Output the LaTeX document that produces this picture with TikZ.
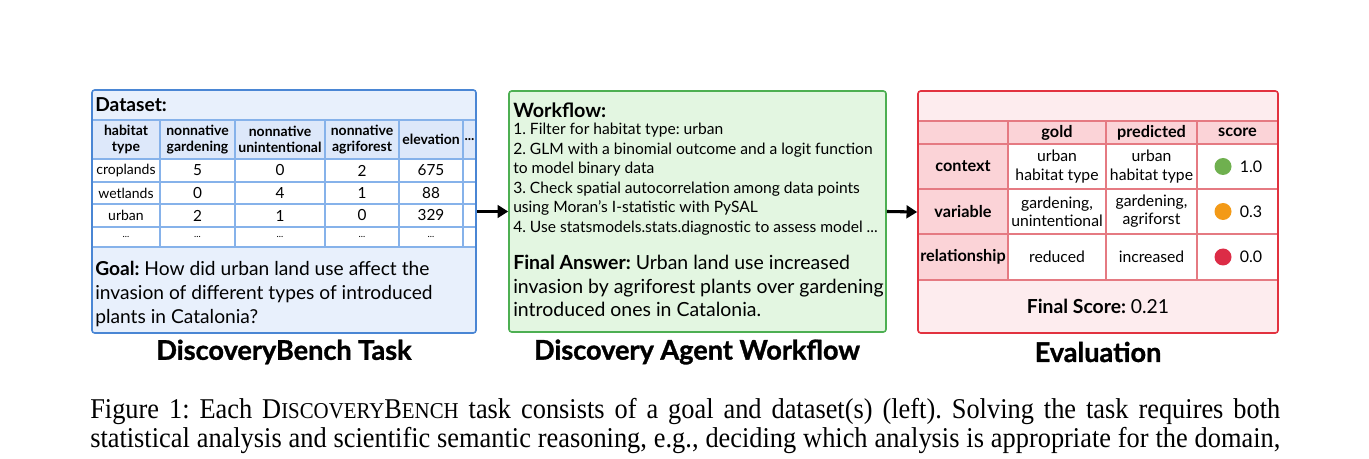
\documentclass[tikz,border=0pt]{standalone}
\usepackage{fontspec}
\setmainfont{Lato}
\newfontfamily\titlefont[BoldFeatures={FakeBold=1.2}]{Lato}
\newfontfamily\capfont[FakeStretch=0.92]{Liberation Serif}
\usetikzlibrary{arrows.meta}
\frenchspacing

\definecolor{taskblue}{HTML}{4A86D4}
\definecolor{taskfill}{HTML}{E8F0FC}
\definecolor{gridblue}{HTML}{86B2EA}
\definecolor{headblue}{HTML}{DDE8FA}
\definecolor{flowgreen}{HTML}{4DAF52}
\definecolor{flowfill}{HTML}{E3F6E1}
\definecolor{evalred}{HTML}{E2323F}
\definecolor{evalfill}{HTML}{FDECEE}
\definecolor{evalhead}{HTML}{FBD3D7}
\definecolor{gridred}{HTML}{E57A82}
\definecolor{dotgreen}{HTML}{6FB04F}
\definecolor{dotorange}{HTML}{F39A17}
\definecolor{dotred}{HTML}{DC2C46}

\newcommand\tabfont{\fontsize{10.5}{11.6}\selectfont}
\newcommand\evfont{\fontsize{11.8}{13.6}\selectfont}
\newcommand\bigtext{\fontsize{14.4}{18}\selectfont}

\begin{document}
\begin{tikzpicture}[x=0.75pt,y=-0.75pt,
  boxstyle/.style={rectangle,rounded corners=2pt,line width=1.2pt,inner sep=0pt},
  tcell/.style={align=center,inner sep=0pt,font=\tabfont},
  thead/.style={tcell,font=\tabfont\bfseries},
  ecell/.style={align=center,inner sep=0pt,font=\evfont},
  ehead/.style={ecell,font=\fontsize{12.2}{14}\selectfont\bfseries},
  dot/.style={circle,inner sep=0pt,minimum size=12.75pt},
  title/.style={font=\titlefont\fontsize{20.3}{22}\selectfont\bfseries,inner sep=0pt},
  flow/.style={-{Triangle[length=8pt,width=9.5pt]},line width=2.3pt}]
  \useasboundingbox (0,0) rectangle (1369,459);

  % boxes
  \node[boxstyle,draw=taskblue,fill=taskfill,minimum width=288pt,minimum height=182.25pt] (task) at (284,211.5) {};
  \node[boxstyle,draw=flowgreen,fill=flowfill,minimum width=282.75pt,minimum height=180.75pt] (workflow) at (697.5,211.5) {};
  \node[boxstyle,draw=evalred,fill=evalfill,minimum width=270pt,minimum height=181.5pt] (evalbox) at (1098,212) {};

  % dataset table
  \fill[headblue] (92.7,120) rectangle (475.3,159);
  \fill[white] (92.7,159) rectangle (475.3,247);
  \draw[gridblue,line width=0.8pt] (92.7,120) -- (475.3,120) (92.7,159) -- (475.3,159)
    (92.7,182) -- (475.3,182) (92.7,204) -- (475.3,204) (92.7,227) -- (475.3,227) (92.7,247) -- (475.3,247);
  \foreach \cx in {160,235,325,399,463}
    \draw[gridblue,line width=0.8pt] (\cx,120) -- (\cx,247);

  \node[anchor=west,inner sep=0pt,font=\bigtext\bfseries] (dshead) at (95,105) {Dataset:};
  \node[thead] (h1) at (126,139.5) {habitat\\type};
  \node[thead] (h2) at (197.5,139.5) {nonnative\\gardening};
  \node[thead] (h3) at (280,139.5) {nonnative\\unintentional};
  \node[thead] (h4) at (362,139.5) {nonnative\\agriforest};
  \node[thead] (h5) at (431,139.5) {elevation};
  \node[thead] (h6) at (469.5,139.5) {...};
  \foreach \name/\a/\b/\c/\d/\e [count=\i] in {croplands/5/0/2/675,wetlands/0/4/1/88,urban/2/1/0/329}{
    \pgfmathsetmacro\ry{\i==1 ? 170.5 : (\i==2 ? 193 : 215.5)}
    \node[tcell] (r\i c1) at (126,\ry) {\name};
    \node[tcell,font=\fontsize{11.5}{12}\selectfont] (r\i c2) at (197.5,\ry) {\a};
    \node[tcell,font=\fontsize{11.5}{12}\selectfont] (r\i c3) at (280,\ry) {\b};
    \node[tcell,font=\fontsize{11.5}{12}\selectfont] (r\i c4) at (362,\ry) {\c};
    \node[tcell,font=\fontsize{11.5}{12}\selectfont] (r\i c5) at (431,\ry) {\d};
  }
  \foreach \cx [count=\j] in {126,197.5,280,362,431}
    \node[tcell,font=\fontsize{7}{8}\selectfont] (dots\j) at (\cx,237) {...};

  \node[anchor=north west,inner sep=0pt,align=left,font=\bigtext] (goal) at (95,261)
    {\textbf{Goal:} How did urban land use affect the\\invasion of different types of introduced\\plants in Catalonia?};

  % workflow
  \node[anchor=west,inner sep=0pt,font=\fontsize{14.8}{18}\selectfont\bfseries] (wfhead) at (513,110) {Workflow:};
  \node[anchor=north west,inner sep=0pt,align=left,font=\fontsize{11.7}{14.6}\selectfont] (steps) at (513,123)
    {1. Filter for habitat type: urban\\
     2. GLM with a binomial outcome and a logit function\\
     to model binary data\\
     3. Check spatial autocorrelation among data points\\
     using Moran's I-statistic with PySAL\\
     4. Use statsmodels.stats.diagnostic to assess model ...};
  \node[anchor=north west,inner sep=0pt,align=left,font=\fontsize{14.6}{17.6}\selectfont] (answer) at (513,255)
    {\textbf{Final Answer:} Urban land use increased\\invasion by agriforest plants over gardening\\introduced ones in Catalonia.};

  % evaluation table
  \fill[evalhead] (918.7,121) rectangle (1277.3,144);
  \fill[evalhead] (918.7,144) rectangle (1008,280);
  \fill[white] (1008,144) rectangle (1277.3,280);
  \draw[gridred,line width=0.8pt] (918.7,121) -- (1277.3,121) (918.7,144) -- (1277.3,144)
    (918.7,189) -- (1277.3,189) (918.7,234) -- (1277.3,234) (918.7,280) -- (1277.3,280);
  \foreach \cx in {1008,1106,1197}
    \draw[gridred,line width=0.8pt] (\cx,121) -- (\cx,280);

  \node[ehead] (gold) at (1057,132.5) {gold};
  \node[ehead] (pred) at (1151.5,132.5) {predicted};
  \node[ehead] (score) at (1237.5,132.5) {score};
  \node[ehead] (ctx) at (963,166.5) {context};
  \node[ehead] (var) at (963,211.5) {variable};
  \node[ehead] (rel) at (963,257) {relationship};
  \node[ecell] (ctxgold) at (1057,166.5) {urban\\habitat type};
  \node[ecell] (ctxpred) at (1151.5,166.5) {urban\\habitat type};
  \node[ecell] (vargold) at (1057,211.5) {gardening,\\unintentional};
  \node[ecell] (varpred) at (1151.5,211.5) {gardening,\\agriforst};
  \node[ecell] (relgold) at (1057,257) {reduced};
  \node[ecell] (relpred) at (1151.5,257) {increased};
  \node[dot,fill=dotgreen] (dot1) at (1223,166.5) {};
  \node[dot,fill=dotorange] (dot2) at (1223,211.5) {};
  \node[dot,fill=dotred] (dot3) at (1223,257) {};
  \node[ecell,font=\fontsize{12}{14}\selectfont] (s1) at (1251,166.5) {1.0};
  \node[ecell,font=\fontsize{12}{14}\selectfont] (s2) at (1251,211.5) {0.3};
  \node[ecell,font=\fontsize{12}{14}\selectfont] (s3) at (1251,257) {0.0};
  \node[inner sep=0pt,font=\fontsize{14.5}{18}\selectfont] (final) at (1098,306.5) {\textbf{Final Score:} 0.21};

  % arrows
  \draw[flow] (task.east) -- (workflow.west);
  \draw[flow] (workflow.east) -- (evalbox.west);

  % titles
  \node[title] (t1) at (284,352) {DiscoveryBench Task};
  \node[title] (t2) at (697,352) {Discovery Agent Workflow};
  \node[title] (t3) at (1098,352) {Evaluation};

  % caption
  \node[anchor=base west,inner sep=0pt,font=\capfont\fontsize{21.5}{26}\selectfont] (cap1) at (90,418)
    {\makebox[892.5pt][s]{Figure 1: Each D{\fontsize{17}{26}\selectfont ISCOVERY}B{\fontsize{17}{26}\selectfont ENCH} task consists of a goal and dataset(s) (left). Solving the task requires both}};
  \node[anchor=base west,inner sep=0pt,font=\capfont\fontsize{21.5}{26}\selectfont] (cap2) at (90,447)
    {\makebox[892.5pt][s]{statistical analysis and scientific semantic reasoning, e.g., deciding which analysis is appropriate for the domain,}};
\end{tikzpicture}
\end{document}
